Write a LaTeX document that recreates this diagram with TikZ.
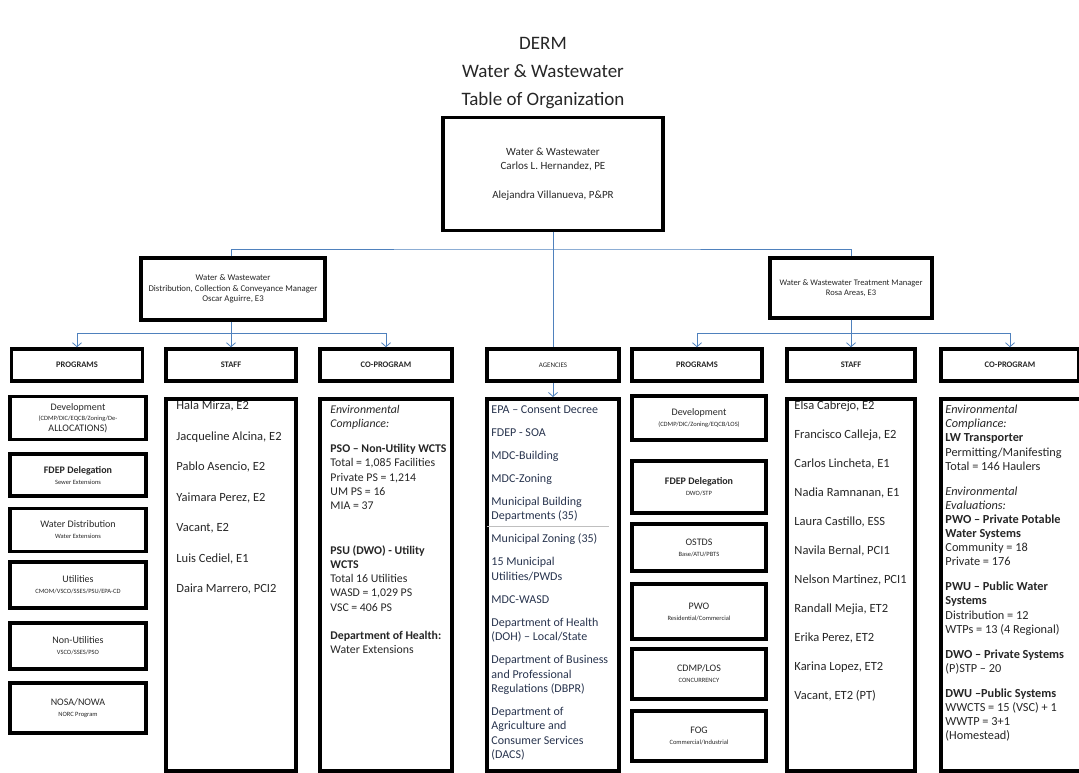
\documentclass[tikz,border=0pt]{standalone}
\usepackage{fontspec}
\setmainfont{Carlito}
\usetikzlibrary{positioning,arrows.meta}
\definecolor{conn}{RGB}{79,129,189}
\definecolor{ink}{RGB}{38,38,38}
\definecolor{agink}{RGB}{40,52,78}

\begin{document}
\begin{tikzpicture}[x=1pt,y=-1pt,
  bx/.style={draw=black,line width=3.5pt,align=center,text=ink,inner sep=2pt},%
  hd/.style={bx,minimum height=32pt,font=\fontsize{8.5}{10}\selectfont\bfseries},%
  pg/.style={bx,font=\fontsize{10}{11}\selectfont},%
  pl/.style={pg,minimum width=136pt},%
  pr/.style={pg,minimum width=134pt},%
  ls/.style={bx,minimum height=372pt,anchor=north},%
  tx/.style={inner sep=0pt,align=left,text=ink},%
  e/.style={draw=conn,line width=0.8pt},%
  ea/.style={e,-{Straight Barb[length=4pt,width=9pt]}},%
  ]
  \useasboundingbox (0,0) rectangle (1079,772);

  \node (title) at (543,73) [align=center,text=ink,%
    font=\fontsize{19}{28}\selectfont
  ] {DERM\\Water \& Wastewater\\Table of Organization};

  % top of the chart
  \node (ww) at (553,174) [bx,minimum width=220pt,minimum height=113pt,%
    font=\fontsize{11}{14}\selectfont
  ] {Water \& Wastewater\\Carlos L. Hernandez, PE\\[15pt]Alejandra Villanueva, P\&PR};
  \node (dccm) at (233,289) [bx,minimum width=184pt,minimum height=62pt,%
    font=\fontsize{8.8}{10.5}\selectfont
  ] {Water \& Wastewater\\Distribution, Collection \& Conveyance Manager\\Oscar Aguirre, E3};
  \node (wwtm) at (851,288) [bx,minimum width=162pt,minimum height=60pt,%
    font=\fontsize{8.5}{10.5}\selectfont
  ] {Water \& Wastewater Treatment Manager\\Rosa Areas, E3};

  % column heads
  \node (progL) at (77,365) [hd,minimum width=131pt] {PROGRAMS};
  \node (staffL) at (231,365) [hd,minimum width=130pt] {STAFF};
  \node (coL) at (386,365) [hd,minimum width=132pt] {CO-PROGRAM};
  \node (agency) at (553,365) [hd,minimum width=132pt,%
    font=\fontsize{7}{9}\selectfont] {AGENCIES};
  \node (progR) at (697,365) [hd,minimum width=130pt] {PROGRAMS};
  \node (staffR) at (851,365) [hd,minimum width=128pt] {STAFF};
  \node (coR) at (1010,365) [hd,minimum width=138pt] {CO-PROGRAM};

  % programs, left
  \node (devL) at (78,418) [pl,minimum height=43pt] {Development\\[-1pt]%
    \fontsize{6.5}{7.5}\selectfont (CDMP/DIC/EQCB/Zoning/De-\\ALLOCATIONS)};
  \node (fdepL) at (78,475) [pl,minimum height=42pt] {\textbf{FDEP Delegation}\\%
    \fontsize{6.5}{7.5}\selectfont Sewer Extensions};
  \node (wdis) at (78,530) [pl,minimum height=43pt] {Water Distribution\\%
    \fontsize{6.5}{7.5}\selectfont Water Extensions};
  \node (util) at (78,585) [pl,minimum height=46pt] {Utilities\\%
    \fontsize{6.5}{7.5}\selectfont CMOM/VSCO/SSES/PSU/EPA-CD};
  \node (nutil) at (78,646) [pl,minimum height=46pt] {Non-Utilities\\%
    \fontsize{6.5}{7.5}\selectfont VSCO/SSES/PSO};
  \node (nosa) at (78,708) [pl,minimum height=50pt] {NOSA/NOWA\\%
    \fontsize{6.5}{7.5}\selectfont NORC Program};

  % programs, right
  \node (devR) at (699,418) [pr,minimum height=44pt] {Development\\%
    \fontsize{6.5}{7.5}\selectfont (CDMP/DIC/Zoning/EQCB/LOS)};
  \node (fdepR) at (699,487) [pr,minimum height=52pt] {\textbf{FDEP Delegation}\\%
    \fontsize{6.5}{7.5}\selectfont DWO/STP};
  \node (ostds) at (699,547.5) [pr,minimum height=47pt] {OSTDS\\%
    \fontsize{6.5}{7.5}\selectfont Base/ATU/PBTS};
  \node (pwo) at (699,611.5) [pr,minimum height=55pt] {PWO\\%
    \fontsize{6.5}{7.5}\selectfont Residential/Commercial};
  \node (cdmp) at (699,674) [pr,minimum height=50pt] {CDMP/LOS\\%
    \fontsize{6.5}{7.5}\selectfont CONCURRENCY};
  \node (fog) at (699,736) [pr,minimum height=50pt] {FOG\\%
    \fontsize{6.5}{7.5}\selectfont Commercial/Industrial};

  % long boxes
  \node (staffLs) at (231,397) [ls,minimum width=130pt] {};
  \node (coLs) at (386,397) [ls,minimum width=132pt] {};
  \node (agencyLs) at (553,397) [ls,minimum width=132pt] {};
  \node (staffRs) at (851,397) [ls,minimum width=128pt] {};
  \node (coRs) at (1011,397) [ls,minimum width=140pt] {};

  \node (staffLt) [tx,below right=4pt and 12pt of staffLs.north west,%
    font=\fontsize{12.5}{30.5}\selectfont
  ] {Hala Mirza, E2\\Jacqueline Alcina, E2\\Pablo Asencio, E2\\Yaimara Perez, E2\\%
    Vacant, E2\\Luis Cediel, E1\\Daira Marrero, PCI2};
  \node (staffRt) [tx,below right=4pt and 9pt of staffRs.north west,%
    font=\fontsize{12.5}{29}\selectfont
  ] {Elsa Cabrejo, E2\\Francisco Calleja, E2\\Carlos Lincheta, E1\\Nadia Ramnanan, E1\\%
    Laura Castillo, ESS\\Navila Bernal, PCI1\\Nelson Martinez, PCI1\\Randall Mejia, ET2\\%
    Erika Perez, ET2\\Karina Lopez, ET2\\Vacant, ET2 (PT)};
  \node (coLt) [tx,below right=8pt and 12pt of coLs.north west,%
    font=\fontsize{11.8}{14.3}\selectfont
  ] {\textit{Environmental}\\\textit{Compliance:}\\[10.5pt]%
    \textbf{PSO – Non-Utility WCTS}\\Total = 1,085 Facilities\\Private PS = 1,214\\%
    UM PS = 16\\MIA = 37\\[30pt]%
    \textbf{PSU (DWO) - Utility}\\\textbf{WCTS}\\Total 16 Utilities\\WASD = 1,029 PS\\%
    VSC = 406 PS\\[14pt]%
    \textbf{Department of Health:}\\Water Extensions};
  \node (agencyLt) [tx,text=agink,below right=8pt and 6pt of agencyLs.north west,%
    font=\fontsize{12}{14.5}\selectfont
  ] {EPA – Consent Decree\\[8.5pt]FDEP - SOA\\[8.5pt]MDC-Building\\[8.5pt]MDC-Zoning\\[8.5pt]%
    Municipal Building\\Departments (35)\\[-7.5pt]%
    \hspace*{-4pt}\textcolor{black!25}{\rule{122pt}{0.6pt}}\\[1.5pt]%
    Municipal Zoning (35)\\[8.5pt]15 Municipal\\Utilities/PWDs\\[8.5pt]MDC-WASD\\[8.5pt]%
    Department of Health\\(DOH) – Local/State\\[8.5pt]%
    Department of Business\\and Professional\\Regulations (DBPR)\\[8.5pt]%
    Department of\\Agriculture and\\Consumer Services\\(DACS)};
  \node (coRt) [tx,below right=8pt and 6pt of coRs.north west,%
    font=\fontsize{12.3}{14.1}\selectfont
  ] {\textit{Environmental}\\\textit{Compliance:}\\\textbf{LW Transporter}\\%
    Permitting/Manifesting\\Total = 146 Haulers\\[11pt]%
    \textit{Environmental}\\\textit{Evaluations:}\\\textbf{PWO – Private Potable}\\%
    \textbf{Water Systems}\\Community = 18\\Private = 176\\[11pt]%
    \textbf{PWU – Public Water}\\\textbf{Systems}\\Distribution = 12\\%
    WTPs = 13 (4 Regional)\\[11pt]%
    \textbf{DWO – Private Systems}\\(P)STP – 20\\[11pt]%
    \textbf{DWU –Public Systems}\\WWCTS = 15 (VSC) + 1\\WWTP = 3+1\\(Homestead)};

  % connectors
  \coordinate (bus1) at (553,249);
  \coordinate (busL) at (231,333);
  \coordinate (busR) at (851,333);

  \draw [e] (ww.south) -- (agency.north);
  \draw [e] (dccm.north -| busL) |- (bus1) -| (wwtm.north);
  \draw [e] (dccm.south -| busL) -- (busL);
  \draw [e] (wwtm.south) -- (busR);
  \draw [e] (progL.north |- busL) -- (coL.north |- busL);
  \draw [e] (progR.north |- busR) -- (coR.north |- busR);
  \foreach \n in {progL,staffL,coL,progR,staffR,coR}
    \draw [ea] (\n.north |- busL) -- (\n.north);
  \draw [ea] (agency.south) -- (agencyLs.north);
\end{tikzpicture}
\end{document}
